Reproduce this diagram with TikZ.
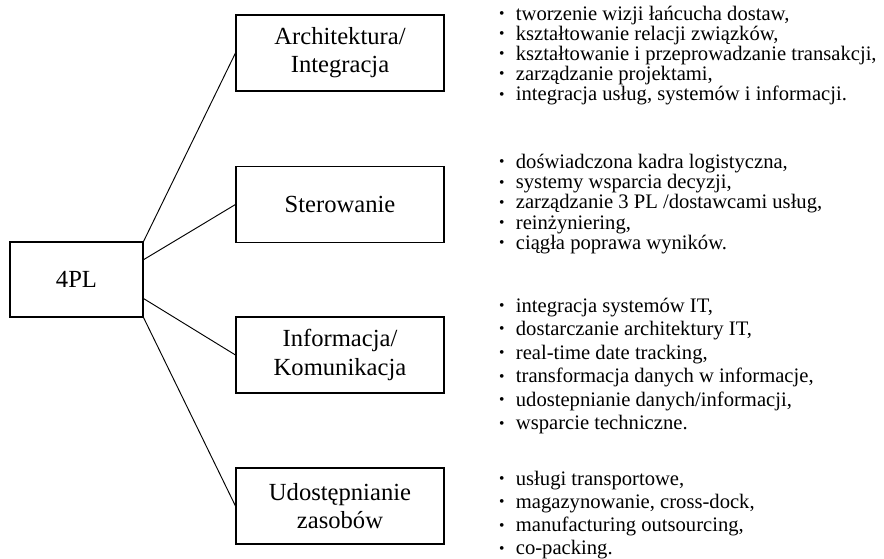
\documentclass[tikz,border=0pt]{standalone}
\usepackage{fontspec}
\setmainfont{Liberation Serif}
\usetikzlibrary{calc}
\newcommand{\punkt}{\makebox[0.5cm][l]{\raisebox{0.08em}{\scalebox{0.75}{\textbullet}}}}

\begin{document}
\begin{tikzpicture}[x=0.03cm, y=-0.03cm,
        pole/.style={draw, line width=0.9pt, minimum width=6.24cm, minimum height=2.28cm,
            align=center, inner sep=0pt, font=\fontsize{21}{24}\selectfont},
        lista/.style={anchor=north west, align=left, inner sep=0pt, font=\fontsize{17.6}{#1}\selectfont},
        galaz/.style={line width=0.8pt}]
        \useasboundingbox (0, 0) rectangle (884, 559);
        \node [pole, minimum width=3.99cm, minimum height=2.25cm] (pl) at (76.5, 279.5) {4PL};
        \node [pole] (arch) at (340, 53) {Architektura/\\Integracja};
        \node [pole] (ster) at (340, 204.5) {Sterowanie};
        \node [pole] (info) at (340, 355) {Informacja/\\Komunikacja};
        \node [pole] (udos) at (340, 506) {Udostępnianie\\zasobów};
        \coordinate (pa) at ($(pl.north east)!0.24!(pl.south east)$);
        \coordinate (pb) at ($(pl.north east)!0.75!(pl.south east)$);
        \draw [galaz] (pl.north east) -- (arch.west);
        \draw [galaz] (pa) -- (ster.west);
        \draw [galaz] (pb) -- (info.west);
        \draw [galaz] (pl.south east) -- (udos.west);
        \node [lista=17.2pt] (l1) at (499, 5.5) {\punkt tworzenie wizji łańcucha dostaw,\\
            \punkt kształtowanie relacji związków,\\
            \punkt kształtowanie i przeprowadzanie transakcji,\\
            \punkt zarządzanie projektami,\\
            \punkt integracja usług, systemów i informacji.};
        \node [lista=17.2pt] (l2) at (499, 154) {\punkt doświadczona kadra logistyczna,\\
            \punkt systemy wsparcia decyzji,\\
            \punkt zarządzanie 3 PL /dostawcami usług,\\
            \punkt reinżyniering,\\
            \punkt ciągła poprawa wyników.};
        \node [lista=20.1pt] (l3) at (499, 297.5) {\punkt integracja systemów IT,\\
            \punkt dostarczanie architektury IT,\\
            \punkt real-time date tracking,\\
            \punkt transformacja danych w informacje,\\
            \punkt udostepnianie danych/informacji,\\
            \punkt wsparcie techniczne.};
        \node [lista=19.9pt] (l4) at (499, 470.5) {\punkt usługi transportowe,\\
            \punkt magazynowanie, cross-dock,\\
            \punkt manufacturing outsourcing,\\
            \punkt co-packing.};
    \end{tikzpicture}
\end{document}
